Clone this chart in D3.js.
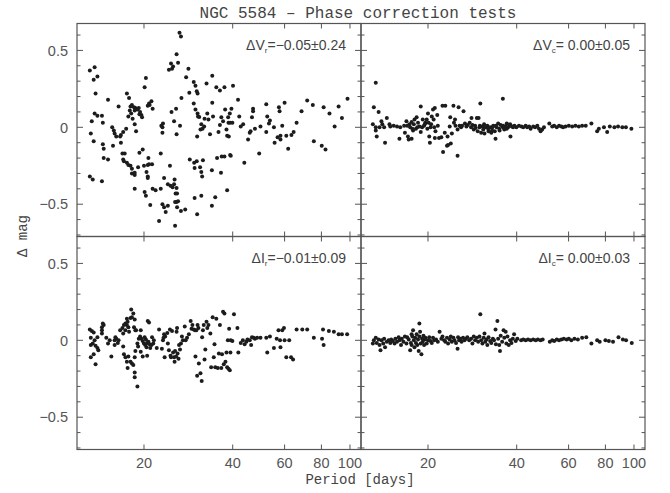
<!DOCTYPE html>
<html>
<head>
<meta charset="utf-8">
<script src="https://cdnjs.cloudflare.com/ajax/libs/d3/7.8.5/d3.min.js"></script>
<style>
  html, body { margin: 0; padding: 0; background: #fff; }
  #chart { width: 670px; height: 493px; }
</style>
</head>
<body>
<div id="chart"></div>
<script>
// [period (days), delta mag]
const vrPts = [
[13.1,0.37],[13.6,0.39],[13.5,0.31],[13.9,0.33],[13.7,0.22],[13.3,0.04],[13.6,0.09],[13.9,0.075],[13.2,-0.04],[13.5,-0.09],[13.1,-0.32],[13.4,-0.34],[14.4,-0.35],[14.4,0.075],[14.5,0.03],[14.5,-0.11],[14.6,-0.14],[14.6,-0.2],[15.1,0.18],[15.1,-0.21],[15.6,0.0],[15.8,-0.02],[15.9,-0.04],[16.1,-0.06],[15.7,-0.12],[16.4,0.135],[16.6,-0.06],[16.7,-0.1],[16.7,-0.05],[17.0,-0.03],[17.4,-0.01],[16.9,-0.17],[17.2,-0.17],[17.0,-0.21],[17.1,-0.22],[17.5,0.22],[17.8,0.19],[18.0,0.135],[18.2,0.145],[18.5,0.13],[17.9,0.11],[18.1,0.09],[17.7,0.07],[18.3,0.055],[18.7,0.125],[18.6,0.11],[19.0,0.115],[19.2,0.125],[19.4,0.1],[19.3,0.085],[19.6,0.08],[19.7,0.065],[18.6,0.02],[18.8,-0.025],[17.5,-0.23],[17.7,-0.245],[18.0,-0.25],[18.2,-0.27],[18.2,-0.3],[18.6,-0.31],[18.6,-0.295],[19.1,-0.26],[19.3,-0.165],[18.6,-0.4],[19.8,-0.145],[20.1,0.26],[20.3,0.32],[20.6,0.14],[20.8,0.155],[20.9,0.145],[21.2,0.17],[21.4,0.12],[20.0,-0.25],[20.4,-0.29],[20.6,-0.32],[20.6,-0.33],[20.6,-0.245],[20.8,-0.24],[21.3,-0.24],[20.7,-0.2],[20.1,-0.42],[20.3,-0.445],[21.0,-0.505],[21.4,-0.4],[21.9,-0.41],[22.8,-0.17],[22.9,0.01],[23.1,0.0],[23.2,0.025],[23.1,-0.035],[22.8,-0.4],[22.5,-0.61],[23.1,-0.5],[23.4,-0.52],[23.4,-0.33],[23.7,-0.55],[24.1,-0.51],[24.1,-0.37],[24.5,-0.25],[24.6,-0.38],[25.0,-0.39],[25.3,-0.37],[25.4,-0.34],[25.6,-0.43],[25.8,-0.395],[25.9,-0.43],[25.5,-0.485],[25.8,-0.485],[26.1,-0.48],[25.9,-0.52],[25.5,-0.64],[26.7,-0.545],[27.6,-0.535],[24.8,0.1],[25.7,0.12],[25.3,0.04],[25.8,-0.045],[26.5,0.01],[24.3,0.375],[24.9,0.38],[25.1,0.395],[24.7,0.415],[25.8,0.475],[26.1,0.42],[26.4,0.615],[26.7,0.59],[26.8,0.19],[27.8,0.325],[28.3,0.38],[28.5,0.225],[29.5,0.295],[29.9,0.27],[30.2,0.235],[30.4,0.22],[28.6,-0.21],[29.6,-0.23],[29.7,-0.265],[30.2,-0.22],[31.0,-0.26],[31.3,-0.29],[31.5,-0.32],[31.7,-0.215],[29.7,-0.46],[30.3,-0.565],[31.3,-0.445],[29.5,0.155],[29.9,0.115],[30.4,0.09],[30.5,0.07],[30.8,0.067],[30.3,-0.06],[31.3,0.02],[31.1,-0.015],[31.6,-0.01],[32.0,0.005],[32.1,0.055],[32.6,0.285],[32.8,0.09],[33.1,0.05],[33.5,-0.045],[34.1,0.335],[34.1,0.16],[34.3,0.07],[34.0,-0.28],[34.0,-0.51],[34.9,-0.455],[35.2,0.26],[35.4,-0.2],[35.8,-0.03],[36.2,0.24],[36.2,0.015],[36.6,0.065],[36.5,-0.295],[36.7,-0.19],[37.1,0.04],[37.5,0.26],[37.5,-0.19],[37.7,0.115],[38.1,-0.015],[38.6,0.065],[38.7,0.03],[38.3,-0.055],[38.8,-0.06],[39.1,0.09],[39.2,-0.18],[38.3,-0.41],[39.4,-0.185],[39.6,0.12],[39.2,0.03],[39.9,0.03],[40.1,0.27],[41.7,0.18],[42.1,0.07],[42.6,0.005],[43.4,0.02],[43.8,-0.23],[45.1,-0.08],[45.7,-0.035],[46.0,-0.025],[46.5,0.065],[46.9,0.12],[46.9,0.105],[47.6,-0.01],[49.2,-0.17],[49.7,0.005],[52.0,0.15],[52.4,0.07],[52.0,-0.03],[53.1,0.025],[53.5,0.045],[55.2,0.0],[55.5,-0.1],[56.8,-0.065],[57.4,0.13],[57.7,0.105],[58.1,-0.055],[58.1,-0.08],[58.9,0.01],[60.0,0.16],[60.8,-0.055],[61.7,-0.14],[63.3,-0.05],[64.4,-0.03],[65.9,0.03],[68.5,0.105],[71.6,0.175],[74.8,0.145],[75.4,-0.09],[80.2,-0.12],[81.4,0.13],[82.6,-0.145],[85.2,0.09],[88.7,0.005],[91.5,0.135],[93.9,0.06],[98.1,0.185]
];
const vcPts = [
[13.3,0.29],[13.1,0.13],[13.6,0.1],[13.0,0.02],[13.3,0.0],[13.3,-0.02],[13.4,-0.06],[13.9,0.04],[14.0,0.02],[13.7,0.0],[14.3,-0.1],[14.5,0.06],[14.2,0.0],[14.8,0.02],[14.9,0.005],[15.3,0.01],[15.7,0.005],[16.0,-0.075],[16.1,0.0],[16.6,0.01],[16.7,-0.035],[16.9,0.04],[17.1,-0.06],[17.2,-0.08],[17.4,0.0],[17.6,0.035],[17.6,-0.075],[17.7,-0.01],[17.9,0.02],[18.0,0.05],[18.2,-0.01],[18.3,0.065],[18.5,0.03],[18.7,0.005],[18.9,0.135],[19.1,0.0],[19.2,0.05],[19.4,0.01],[19.6,0.03],[19.8,0.05],[20.0,0.09],[20.1,0.03],[20.2,-0.06],[20.3,-0.1],[20.4,0.0],[20.6,0.07],[20.8,0.115],[20.9,0.05],[21.1,0.125],[21.2,-0.025],[21.5,0.08],[21.6,0.01],[21.1,-0.07],[21.8,-0.07],[22.2,-0.065],[22.5,-0.16],[22.8,-0.035],[22.9,0.14],[23.2,-0.12],[23.3,-0.06],[23.4,-0.115],[23.7,0.005],[23.8,0.065],[23.9,-0.105],[24.1,-0.04],[24.4,0.14],[24.5,0.03],[24.7,0.05],[24.8,0.01],[25.2,-0.185],[25.2,-0.015],[25.4,0.13],[25.6,0.01],[25.9,0.0],[26.1,0.01],[26.4,0.105],[26.7,0.025],[27.0,0.005],[27.3,0.015],[27.7,0.03],[28.1,0.06],[28.3,0.015],[28.6,-0.015],[28.9,0.01],[29.3,0.06],[29.5,-0.025],[29.7,0.06],[30.1,0.155],[29.9,0.0],[30.3,-0.035],[30.6,0.005],[30.8,-0.015],[31.1,-0.04],[31.4,0.0],[31.8,0.01],[32.1,-0.025],[32.5,0.0],[32.8,-0.035],[33.1,0.0],[33.3,0.01],[33.7,-0.025],[33.9,-0.075],[34.2,0.0],[34.6,0.025],[34.9,-0.01],[35.3,0.015],[35.9,0.185],[35.9,0.0],[36.3,-0.015],[36.7,0.005],[37.0,0.025],[37.4,0.0],[37.8,0.015],[38.1,-0.06],[38.5,0.005],[38.9,0.0],[39.3,0.01],[39.9,0.0],[40.7,0.01],[41.5,0.005],[42.1,0.0],[42.9,0.01],[43.4,0.0],[44.1,0.005],[44.6,-0.01],[45.5,0.005],[46.2,0.0],[47.0,0.01],[47.6,-0.01],[48.2,-0.025],[48.8,-0.015],[49.5,0.0],[51.6,0.025],[52.8,0.005],[53.6,0.01],[54.7,0.0],[55.7,0.01],[56.7,0.005],[57.5,0.0],[58.6,0.005],[60.1,0.01],[61.7,0.005],[63.3,0.01],[65.0,0.005],[66.7,0.01],[68.6,0.01],[71.7,0.025],[75.0,-0.025],[76.0,-0.01],[79.1,0.0],[81.1,-0.03],[82.8,0.005],[85.8,0.0],[88.3,0.005],[91.3,0.0],[93.9,0.0],[98.0,-0.01],
[22.4,0.14],[17.0,0.01],[17.3,0.02],[17.8,-0.02],[18.4,0.0],[18.9,-0.03],[19.5,0.02],[19.9,-0.01],[20.5,0.02],[21.0,0.0],[28.0,0.0],[29.0,-0.005],[30.0,0.01],[31.0,0.02],[32.0,-0.01],[33.0,-0.02],[34.0,0.01],[35.0,-0.02],[36.0,0.01],[37.0,-0.01],[38.0,0.02]
];
const irPts = [
[13.1,0.07],[13.3,0.06],[13.5,0.05],[13.6,0.0],[13.2,0.017],[13.2,-0.03],[13.4,-0.02],[13.2,-0.11],[13.5,-0.09],[13.7,-0.155],[13.9,-0.05],[14.0,-0.065],[13.7,-0.035],[13.9,0.02],[14.4,0.065],[14.4,0.085],[14.5,0.11],[14.6,0.1],[14.4,0.045],[14.9,0.017],[15.1,-0.02],[15.3,0.0],[15.5,-0.105],[15.9,0.0],[16.0,0.02],[16.1,0.01],[16.3,-0.017],[16.4,0.0],[15.9,-0.03],[16.6,0.065],[16.9,0.08],[17.0,0.045],[17.1,0.1],[17.3,0.11],[17.3,0.065],[17.5,0.14],[17.6,0.12],[17.5,0.1],[17.7,0.085],[18.0,0.145],[18.1,0.2],[18.2,0.15],[18.4,0.175],[18.5,0.085],[18.6,0.135],[18.7,0.065],[18.8,0.065],[17.8,0.055],[17.0,-0.04],[17.1,-0.09],[17.3,-0.11],[17.5,-0.14],[17.6,-0.18],[17.7,-0.105],[18.0,-0.14],[18.2,-0.15],[18.4,-0.16],[18.6,-0.11],[18.6,-0.21],[18.6,-0.24],[19.0,-0.3],[18.7,-0.07],[19.0,-0.02],[19.1,-0.04],[19.2,0.01],[19.4,0.025],[19.5,0.065],[19.6,0.01],[19.8,-0.005],[20.0,-0.02],[20.1,0.02],[20.2,-0.03],[20.3,0.005],[20.4,-0.045],[20.5,-0.017],[20.6,0.125],[20.8,0.115],[20.7,-0.01],[20.9,-0.025],[21.0,-0.05],[21.2,-0.03],[21.3,0.02],[21.5,-0.02],[21.6,0.0],[19.8,-0.105],[20.5,-0.1],[19.5,-0.075],[22.1,-0.05],[22.5,0.07],[23.0,-0.055],[23.3,0.017],[23.4,0.04],[23.2,0.0],[23.5,-0.11],[23.6,0.025],[24.0,0.048],[24.1,-0.02],[24.3,-0.065],[24.5,0.07],[24.6,-0.1],[24.7,-0.11],[24.9,0.06],[25.1,-0.08],[25.3,-0.11],[25.4,-0.14],[25.5,-0.07],[25.7,-0.105],[25.8,0.055],[25.9,0.08],[26.0,-0.085],[26.2,-0.12],[26.3,-0.03],[26.5,-0.06],[26.7,-0.02],[26.9,0.025],[27.1,0.0],[27.5,0.09],[27.7,0.0],[28.0,0.017],[28.4,0.04],[28.8,0.125],[29.0,0.075],[29.2,0.1],[29.5,0.07],[29.8,0.065],[29.9,-0.105],[30.1,0.065],[30.3,-0.23],[30.4,0.1],[30.6,0.08],[30.7,-0.15],[31.1,-0.215],[31.4,-0.265],[31.5,0.02],[31.7,0.065],[31.9,0.1],[32.1,-0.125],[32.3,-0.06],[32.6,0.12],[32.8,0.08],[33.1,0.1],[33.6,0.045],[33.8,-0.175],[34.2,0.15],[34.5,-0.11],[34.7,-0.025],[34.9,-0.175],[35.2,0.14],[35.6,-0.18],[35.9,-0.085],[36.2,0.1],[36.6,-0.18],[36.8,-0.09],[37.1,0.185],[37.3,-0.155],[37.5,0.175],[37.8,-0.14],[38.1,-0.08],[38.3,-0.175],[38.5,0.0],[38.7,-0.185],[38.9,0.075],[39.1,-0.195],[39.3,-0.08],[39.4,0.0],[39.9,-0.005],[40.4,0.17],[41.5,0.08],[41.8,-0.08],[42.6,-0.017],[43.3,0.0],[43.9,-0.025],[44.5,-0.01],[44.9,0.005],[45.7,0.0],[46.2,-0.03],[46.5,0.02],[47.1,0.017],[47.6,0.01],[48.4,0.017],[49.7,0.017],[52.0,0.017],[52.4,-0.08],[53.5,0.025],[55.2,-0.05],[56.4,0.01],[57.2,0.065],[57.9,0.0],[58.1,-0.045],[58.9,0.065],[59.7,0.08],[60.0,0.0],[60.8,-0.11],[62.2,0.0],[63.1,-0.11],[64.1,-0.125],[65.9,0.07],[68.9,0.07],[71.6,0.07],[75.4,0.017],[80.4,0.01],[81.0,0.07],[81.4,-0.03],[84.8,0.06],[88.2,0.055],[91.5,0.04],[93.9,0.04],[97.8,0.04]
];
const icPts = [
[13.0,-0.02],[13.1,0.0],[13.3,0.017],[13.4,-0.017],[13.6,0.005],[13.7,-0.03],[13.8,-0.065],[13.9,0.0],[14.1,-0.02],[14.2,0.01],[14.3,-0.045],[14.5,-0.01],[14.7,0.0],[14.9,-0.017],[15.0,0.005],[15.2,-0.005],[15.4,-0.02],[15.5,0.01],[15.7,-0.01],[15.9,0.02],[16.0,0.0],[16.2,-0.03],[16.3,0.01],[16.5,-0.01],[16.7,0.025],[16.9,-0.02],[17.0,0.02],[17.2,0.005],[17.4,-0.065],[17.5,-0.017],[17.6,0.04],[17.6,-0.03],[17.7,0.025],[17.8,0.065],[17.9,0.0],[18.0,-0.045],[18.1,0.017],[18.2,-0.017],[18.3,0.04],[18.4,-0.03],[18.5,0.005],[18.6,-0.07],[18.7,0.11],[18.7,0.025],[18.8,0.055],[18.9,-0.02],[19.0,-0.09],[19.1,0.01],[19.2,-0.01],[19.3,0.03],[19.4,-0.03],[19.5,0.005],[19.6,0.017],[19.8,-0.02],[20.0,0.0],[20.2,0.02],[20.4,-0.005],[20.6,-0.017],[20.8,0.017],[21.0,0.0],[21.3,0.005],[21.6,-0.01],[21.9,0.055],[22.2,0.01],[22.4,0.025],[22.7,0.0],[22.9,-0.01],[23.2,0.017],[23.4,-0.02],[23.7,0.005],[23.9,0.025],[24.1,-0.01],[24.4,0.017],[24.6,0.0],[24.9,-0.017],[25.2,-0.055],[25.3,0.02],[25.5,0.0],[25.8,0.01],[26.0,-0.01],[26.3,0.017],[26.6,0.0],[26.9,0.01],[27.2,0.02],[27.6,0.0],[28.0,0.01],[28.3,-0.02],[28.6,0.025],[28.9,0.0],[29.3,0.017],[29.6,-0.01],[29.9,0.025],[30.1,0.17],[30.3,0.0],[30.6,-0.02],[30.9,0.017],[31.1,0.045],[31.3,-0.01],[31.6,0.005],[31.8,-0.03],[32.1,0.02],[32.5,-0.005],[32.8,-0.017],[33.2,0.01],[33.5,0.0],[33.9,0.07],[34.0,-0.025],[34.4,0.125],[34.6,0.01],[34.9,-0.03],[35.1,-0.07],[35.3,0.03],[35.7,-0.01],[36.1,0.065],[36.3,0.017],[36.7,0.055],[36.9,-0.02],[37.2,0.025],[37.6,-0.03],[38.0,0.0],[38.4,-0.017],[38.8,0.01],[39.2,0.04],[39.7,-0.005],[40.2,0.01],[41.4,0.0],[42.1,0.005],[42.9,0.0],[43.7,0.005],[44.6,0.0],[45.5,0.005],[46.4,0.0],[47.2,0.005],[48.2,0.0],[49.0,0.005],[51.8,-0.01],[52.8,0.0],[53.6,-0.005],[54.7,0.005],[55.7,0.0],[56.7,0.005],[57.8,0.01],[59.1,0.005],[60.1,0.01],[61.3,0.0],[62.8,0.01],[64.5,0.005],[66.7,0.017],[68.9,0.02],[71.7,-0.02],[75.0,0.0],[76.5,-0.01],[80.0,0.0],[82.2,-0.005],[84.9,-0.01],[88.6,0.02],[91.7,0.005],[94.0,0.0],[98.3,-0.017]
];

const panels = [
  { pts: vrPts, col: 0, row: 0, band: 'V', sub: 'r', stat: '=\u22120.05\u00b10.24' },
  { pts: vcPts, col: 1, row: 0, band: 'V', sub: 'c', stat: '= 0.00\u00b10.05' },
  { pts: irPts, col: 0, row: 1, band: 'I', sub: 'r', stat: '=\u22120.01\u00b10.09' },
  { pts: icPts, col: 1, row: 1, band: 'I', sub: 'c', stat: '= 0.00\u00b10.03' }
];
const xTicks = [20, 40, 60, 80, 100];
const yMajor = [-0.5, 0, 0.5];
const yMinor = d3.range(-7, 7).map(d => d / 10);

const W = 670, H = 493;
const L = 77, T = 23.5, PW = 284, PH = 213;
const frame = '#555', ink = '#1c1c1c';

const svg = d3.select('#chart').append('svg').attr('width', W).attr('height', H);
svg.append('rect').attr('width', W).attr('height', H).attr('fill', '#fff');

const x = d3.scaleLog().domain([11.85, 109]).range([0, PW]);
const y = d3.scaleLinear().domain([-0.71, 0.675]).range([PH, 0]);
const fmtY = d => d === 0 ? '0' : (d < 0 ? '\u2212' : '') + Math.abs(d);

panels.forEach(p => {
  const g = svg.append('g').attr('transform', `translate(${L + p.col * PW},${T + p.row * PH})`);

  // y ticks, both sides, pointing in
  [0, PW].forEach(x0 => {
    const dir = x0 === 0 ? 1 : -1;
    g.selectAll(null).data(yMinor).enter().append('line')
      .attr('x1', x0).attr('x2', d => x0 + dir * (yMajor.includes(d) ? 6 : 3.5))
      .attr('y1', d => y(d)).attr('y2', d => y(d))
      .attr('stroke', frame).attr('stroke-width', 1);
  });
  // x ticks, top and bottom, pointing in
  [0, PH].forEach(y0 => {
    const dir = y0 === 0 ? 1 : -1;
    g.selectAll(null).data(xTicks).enter().append('line')
      .attr('x1', d => x(d)).attr('x2', d => x(d))
      .attr('y1', y0).attr('y2', y0 + dir * 5)
      .attr('stroke', frame).attr('stroke-width', 1);
  });

  g.append('rect').attr('width', PW).attr('height', PH)
    .attr('fill', 'none').attr('stroke', frame).attr('stroke-width', 1.2);

  g.selectAll('circle').data(p.pts).enter().append('circle')
    .attr('cx', d => x(d[0])).attr('cy', d => y(d[1]))
    .attr('r', 2).attr('fill', ink);

  const lab = g.append('text')
    .attr('x', PW - 15).attr('y', 26)
    .attr('text-anchor', 'end')
    .attr('font-family', 'Liberation Sans, Arial, sans-serif')
    .attr('font-size', 14).attr('fill', '#444')
    .style('white-space', 'pre');
  lab.append('tspan').text('\u0394' + p.band);
  lab.append('tspan').attr('font-size', 8).attr('dy', 3).text(p.sub);
  lab.append('tspan').attr('dy', -3).text(p.stat);

  if (p.col === 0) {
    g.selectAll('.yl').data(yMajor).enter().append('text')
      .attr('x', -9).attr('y', d => y(d)).attr('dy', '0.36em')
      .attr('text-anchor', 'end')
      .attr('font-family', 'Liberation Sans, Arial, sans-serif')
      .attr('font-size', 14.5).attr('fill', '#555')
      .text(fmtY);
  }
  if (p.row === 1) {
    g.selectAll('.xl').data(xTicks).enter().append('text')
      .attr('x', d => x(d)).attr('y', PH + 18)
      .attr('text-anchor', 'middle')
      .attr('font-family', 'Liberation Sans, Arial, sans-serif')
      .attr('font-size', 14.5).attr('fill', '#555')
      .text(d => d);
  }
});

svg.append('text')
  .attr('x', 358).attr('y', 18).attr('text-anchor', 'middle')
  .attr('font-family', 'Liberation Mono, monospace').attr('font-size', 16)
  .attr('fill', '#444').style('white-space', 'pre')
  .text('NGC 5584 \u2013 Phase correction tests');

svg.append('text')
  .attr('x', 360).attr('y', 484).attr('text-anchor', 'middle')
  .attr('font-family', 'Liberation Mono, monospace').attr('font-size', 14)
  .attr('fill', '#444')
  .text('Period [days]');

svg.append('text')
  .attr('transform', 'translate(27,236) rotate(-90)')
  .attr('text-anchor', 'middle')
  .attr('font-family', 'Liberation Mono, monospace').attr('font-size', 14)
  .attr('fill', '#444')
  .text('\u0394 mag');
</script>
</body>
</html>
